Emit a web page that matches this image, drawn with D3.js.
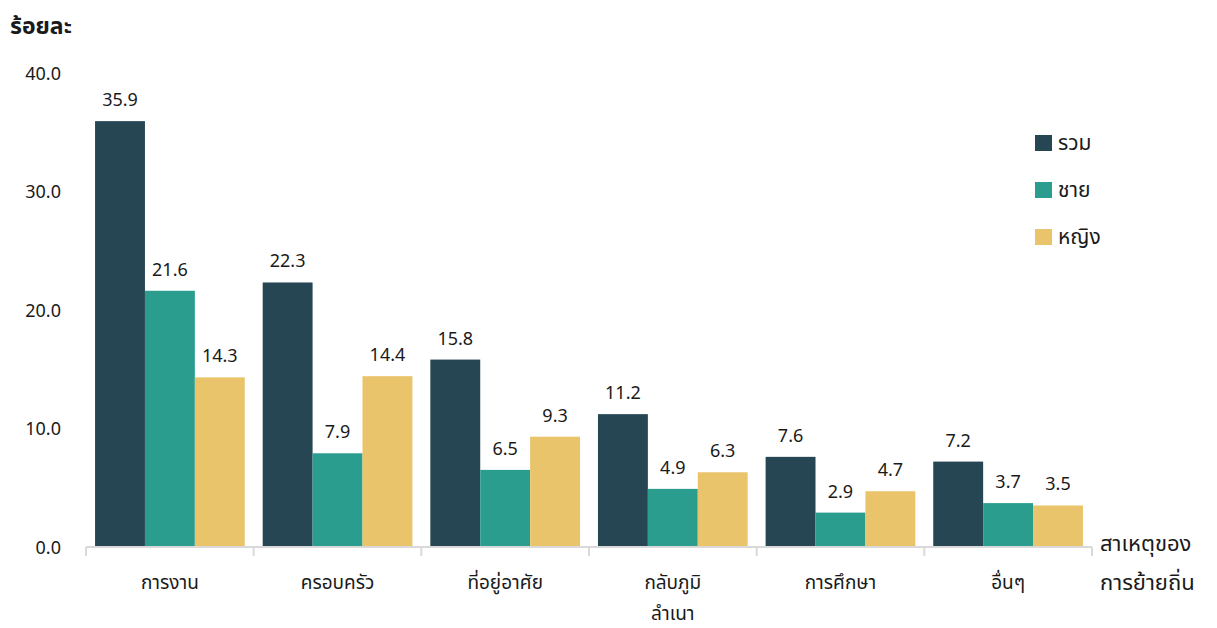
<!DOCTYPE html>
<html>
<head>
<meta charset="utf-8">
<script src="https://cdn.jsdelivr.net/npm/d3@7"></script>
<style>
  body { margin: 0; background: #fff; }
  svg text { font-family: "Noto Sans", "Noto Sans Thai", "DejaVu Sans", sans-serif; fill: #1a1a1a; }
</style>
</head>
<body>
<script>
const categories = [['การงาน'], ['ครอบครัว'], ['ที่อยู่อาศัย'], ['กลับภูมิ', 'ลำเนา'], ['การศึกษา'], ['อื่นๆ']];
const seriesNames = ['รวม', 'ชาย', 'หญิง'];
const totalValues = [35.9, 22.3, 15.8, 11.2, 7.6, 7.2];
const maleValues = [21.6, 7.9, 6.5, 4.9, 2.9, 3.7];
const femaleValues = [14.3, 14.4, 9.3, 6.3, 4.7, 3.5];
const yTicks = [0, 10, 20, 30, 40];
const colors = ['#264653', '#2a9d8f', '#e9c46a'];

const width = 1217, height = 628;
const series = [totalValues, maleValues, femaleValues];

const svg = d3.select('body').append('svg')
    .attr('width', width)
    .attr('height', height);

const x0 = d3.scaleBand()
    .domain(d3.range(categories.length))
    .range([86, 1092])
    .paddingInner(0.107)
    .paddingOuter(0.054);

const x1 = d3.scaleBand()
    .domain(d3.range(seriesNames.length))
    .range([0, x0.bandwidth()]);

const y = d3.scaleLinear()
    .domain([0, 40])
    .range([547, 72.5]);

// y tick labels, no axis line
svg.append('g')
    .selectAll('text')
    .data(yTicks)
    .enter().append('text')
    .attr('x', 61)
    .attr('y', d => y(d) + 7)
    .attr('text-anchor', 'end')
    .attr('font-size', 18)
    .text(d => d.toFixed(1));

svg.append('text')
    .attr('x', 10)
    .attr('y', 34)
    .attr('font-size', 23)
    .attr('font-weight', 'bold')
    .text('ร้อยละ');

// bars
const groups = svg.append('g')
    .selectAll('g')
    .data(categories)
    .enter().append('g')
    .attr('transform', (d, i) => 'translate(' + x0(i) + ',0)');

groups.selectAll('rect')
    .data((d, i) => series.map((s, j) => ({ s: j, v: s[i] })))
    .enter().append('rect')
    .attr('x', d => x1(d.s))
    .attr('y', d => y(d.v))
    .attr('width', x1.bandwidth())
    .attr('height', d => y(0) - y(d.v))
    .attr('fill', d => colors[d.s]);

groups.selectAll('text.val')
    .data((d, i) => series.map((s, j) => ({ s: j, v: s[i] })))
    .enter().append('text')
    .attr('class', 'val')
    .attr('x', d => x1(d.s) + x1.bandwidth() / 2)
    .attr('y', d => y(d.v) - 15)
    .attr('text-anchor', 'middle')
    .attr('font-size', 18)
    .text(d => d.v.toFixed(1));

// x axis with ticks at band boundaries
const xBounds = d3.range(categories.length + 1).map(i => x0.range()[0] + i * (x0.range()[1] - x0.range()[0]) / categories.length);
const axis = svg.append('g').attr('stroke', '#d9d9d9').attr('stroke-width', 2);
axis.append('line')
    .attr('x1', xBounds[0]).attr('x2', xBounds[xBounds.length - 1])
    .attr('y1', y(0)).attr('y2', y(0));
axis.selectAll('line.tick')
    .data(xBounds)
    .enter().append('line')
    .attr('class', 'tick')
    .attr('x1', d => d).attr('x2', d => d)
    .attr('y1', y(0)).attr('y2', y(0) + 9);

const catLabels = svg.append('g')
    .selectAll('text')
    .data(categories)
    .enter().append('text')
    .attr('x', (d, i) => x0(i) + x0.bandwidth() / 2)
    .attr('y', 589)
    .attr('text-anchor', 'middle')
    .attr('font-size', 19);

catLabels.selectAll('tspan')
    .data(d => d)
    .enter().append('tspan')
    .attr('x', function () { return d3.select(this.parentNode).attr('x'); })
    .attr('dy', (d, i) => i === 0 ? 0 : 31)
    .text(d => d);

svg.append('text')
    .attr('x', 1100)
    .attr('y', 551)
    .attr('font-size', 22)
    .text('สาเหตุของ');
svg.append('text')
    .attr('x', 1100)
    .attr('y', 590)
    .attr('font-size', 22)
    .text('การย้ายถิ่น');

// legend
const legend = svg.append('g')
    .selectAll('g')
    .data(seriesNames)
    .enter().append('g')
    .attr('transform', (d, i) => 'translate(1035,' + (135 + i * 47) + ')');

legend.append('rect')
    .attr('width', 17)
    .attr('height', 16)
    .attr('fill', (d, i) => colors[i]);

legend.append('text')
    .attr('x', 23)
    .attr('y', 15)
    .attr('font-size', 21)
    .text(d => d);
</script>
</body>
</html>
